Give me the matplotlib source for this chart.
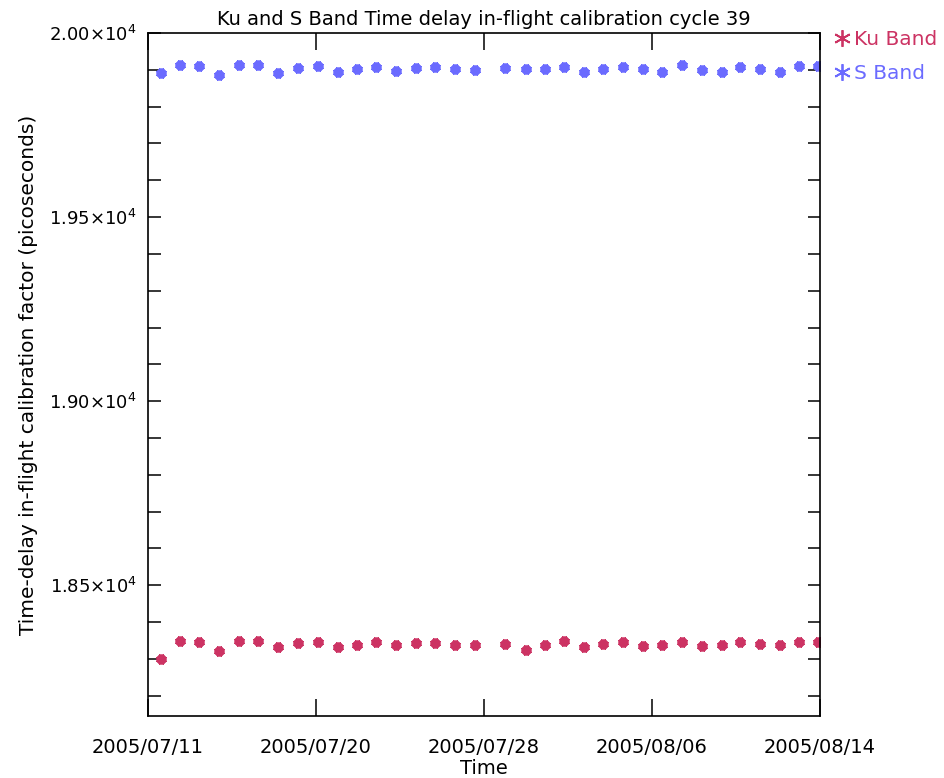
import numpy as np
import pandas as pd
import matplotlib
matplotlib.use("Agg")
import matplotlib.pyplot as plt
import matplotlib.dates as mdates
from matplotlib.lines import Line2D
from matplotlib.ticker import FixedLocator, MultipleLocator, FuncFormatter

# measurement times (one per pass, roughly daily)
times = pd.to_datetime([
    "2005-07-12 05:50", "2005-07-13 04:50", "2005-07-14 04:20", "2005-07-15 04:10",
    "2005-07-16 04:10", "2005-07-17 03:55", "2005-07-18 04:10", "2005-07-19 04:25",
    "2005-07-20 04:50", "2005-07-21 04:25", "2005-07-22 03:25", "2005-07-23 03:10",
    "2005-07-24 03:10", "2005-07-25 03:00", "2005-07-26 02:30", "2005-07-27 02:45",
    "2005-07-28 03:00", "2005-07-29 15:25", "2005-07-30 16:40", "2005-07-31 16:10",
    "2005-08-01 15:10", "2005-08-02 15:00", "2005-08-03 15:00", "2005-08-04 14:30",
    "2005-08-05 14:45", "2005-08-06 14:30", "2005-08-07 14:00", "2005-08-08 14:15",
    "2005-08-09 14:45", "2005-08-10 12:50", "2005-08-11 13:00", "2005-08-12 13:30",
    "2005-08-13 12:50", "2005-08-14 11:50",
])

ku_band = [18301, 18350, 18346, 18321, 18350, 18350, 18332, 18343, 18346,
           18332, 18339, 18346, 18339, 18343, 18343, 18337, 18337,
           18341, 18325, 18337, 18349, 18332, 18340, 18346, 18335, 18337,
           18346, 18335, 18337, 18346, 18340, 18337, 18346, 18346]

s_band = [19892, 19913, 19910, 19886, 19913, 19913, 19892, 19905, 19910,
          19895, 19901, 19908, 19897, 19904, 19908, 19901, 19899,
          19904, 19901, 19901, 19908, 19895, 19901, 19908, 19901, 19895,
          19913, 19899, 19895, 19908, 19901, 19895, 19911, 19911]

t_start = pd.Timestamp("2005-07-11 14:00")
t_end = pd.Timestamp("2005-08-14 14:00")

ku_col = "#cc3363"
s_col = "#6b6bff"

plt.rcParams["font.family"] = "DejaVu Sans"
plt.rcParams["mathtext.fontset"] = "dejavusans"

fig = plt.figure(figsize=(9.44, 7.78), dpi=100)
ax = fig.add_axes([0.1568, 0.0797, 0.7118, 0.8779])

mk = dict(ls="", marker=(8, 2, 0), ms=7, mew=3.2)
ax.plot(times, ku_band, color=ku_col, **mk)
ax.plot(times, s_band, color=s_col, **mk)

x0, x1 = mdates.date2num(t_start), mdates.date2num(t_end)
ax.set_xlim(x0, x1)
ax.set_ylim(18145, 20000)

ax.xaxis.set_major_locator(FixedLocator(np.linspace(x0, x1, 5)))
ax.xaxis.set_major_formatter(mdates.DateFormatter("%Y/%m/%d"))
ax.yaxis.set_major_locator(MultipleLocator(500))
ax.yaxis.set_minor_locator(MultipleLocator(100))
ax.yaxis.set_major_formatter(FuncFormatter(
    lambda v, p: r"$%.2f{\times}10^{4}$" % (v / 1e4)))

ax.tick_params(which="both", direction="in", top=True, right=True,
               length=9, width=1.1, colors="black")
ax.tick_params(axis="x", pad=16, length=12, labelsize=14)
ax.tick_params(axis="y", pad=8, labelsize=13)
for s in ax.spines.values():
    s.set_linewidth(1.2)

ax.set_title("Ku and S Band Time delay in-flight calibration cycle 39",
             fontsize=14, pad=6)
ax.set_xlabel("Time", fontsize=14, labelpad=1)
ax.set_ylabel("Time-delay in-flight calibration factor (picoseconds)",
              fontsize=14.5, labelpad=8)

handles = [Line2D([], [], ls="", marker=(6, 2, 0), ms=12, mew=1.3, color=ku_col),
           Line2D([], [], ls="", marker=(6, 2, 0), ms=12, mew=1.3, color=s_col)]
ax.legend(handles, ["Ku Band", "S Band"], loc="upper left",
          bbox_to_anchor=(1.0, 1.025), frameon=False, labelcolor=[ku_col, s_col],
          fontsize=14.5, handlelength=0.8, handletextpad=0.2, labelspacing=0.75,
          borderaxespad=0.3)

fig.savefig("out.png", dpi=100)
